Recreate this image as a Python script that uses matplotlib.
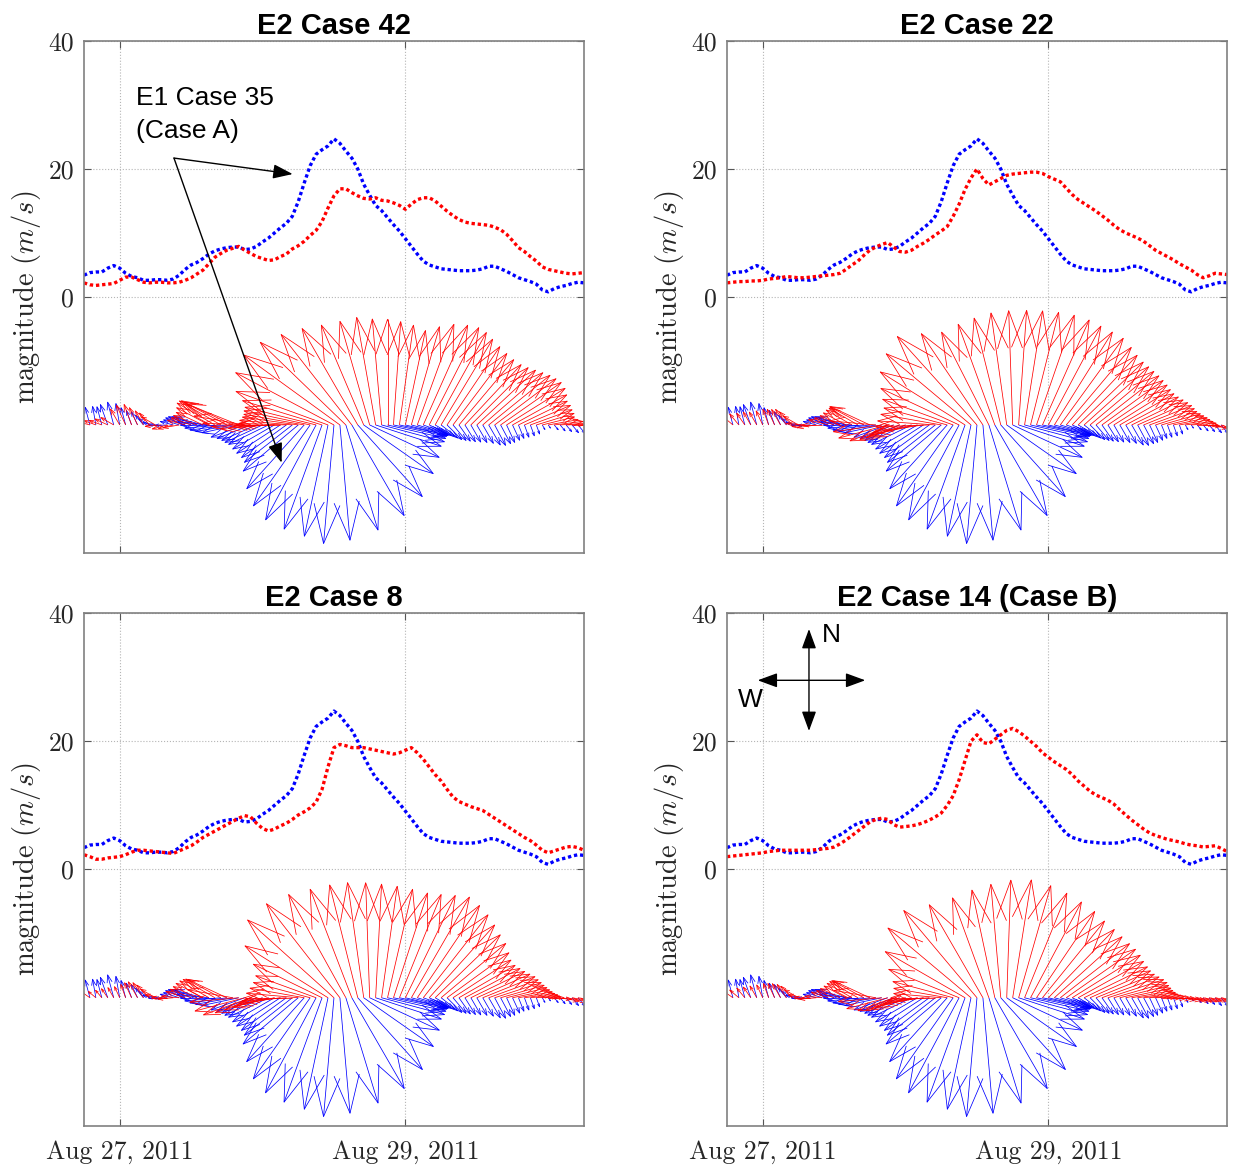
import numpy as np
import pandas as pd
import matplotlib
matplotlib.use('Agg')
import matplotlib.pyplot as plt
import matplotlib.dates as mdates
from matplotlib.collections import LineCollection
from datetime import datetime

plt.rcParams['mathtext.fontset'] = 'cm'
plt.rcParams['font.family'] = ['Liberation Sans', 'DejaVu Sans']

# hourly samples, Aug 26 18:00 -> Aug 30 06:00
times = pd.date_range('2011-08-26 18:00', '2011-08-30 06:00', freq='h')

# E1 Case 35 (blue, same in every panel): speed (m/s) and direction the wind blows toward (deg from N)
blue_mag = [3.4, 3.8, 3.9, 3.9, 4.5, 4.9, 4.5, 3.7, 3.2, 3.0,
            2.6, 2.6, 2.7, 2.7, 2.6, 2.8, 3.4, 4.3, 5.0, 5.4,
            6.0, 6.7, 7.2, 7.5, 7.7, 7.8, 7.8, 7.4, 7.5, 7.9,
            8.6, 9.2, 10.0, 10.8, 11.5, 12.6, 14.9, 17.8, 20.5, 22.3,
            23.0, 23.6, 24.7, 24.0, 22.8, 21.7, 20.0, 17.6, 15.9, 14.3,
            13.5, 12.4, 11.3, 10.3, 9.1, 7.9, 6.7, 5.6, 5.0, 4.7,
            4.4, 4.3, 4.2, 4.1, 4.1, 4.1, 4.2, 4.4, 4.8, 4.8,
            4.4, 4.0, 3.5, 3.0, 2.7, 2.4, 2.0, 1.1, 0.8, 1.3,
            1.6, 1.8, 2.1, 2.3, 2.2]
blue_dir = [340, 345, 350, 345, 340, 345, 350, 345, 340, 335,
            320, 300, 280, 270, 268,
            285, 288, 290, 290, 288, 285,
            275, 270, 265, 262, 260, 258,
            250, 248, 246, 245, 244,
            240, 237, 234, 232,
            230, 222, 215, 208, 200, 192, 185,
            175, 163, 150, 138, 125, 115, 108,
            105, 103, 102, 102, 104, 105, 107,
            110, 115, 120, 128, 135, 140,
            145, 148, 150, 150, 150, 150, 152, 152,
            155, 155, 158, 160, 160, 160,
            150, 145, 140, 140, 140, 140, 140, 140]

# E2 cases (red)
red_mag_42 = [2.2, 1.9, 1.8, 1.9, 2.0, 2.1, 2.6, 3.1, 3.1, 2.7,
              2.3, 2.2, 2.3, 2.3, 2.2, 2.2, 2.3, 2.6, 3.0, 3.6,
              4.2, 5.2, 6.2, 6.8, 7.3, 7.6, 7.9, 7.3, 6.8, 6.3,
              6.0, 5.7, 5.8, 6.3, 6.7, 7.5, 8.0, 8.7, 9.6, 10.4,
              11.8, 13.9, 15.8, 16.9, 16.9, 16.3, 15.8, 15.4, 15.3, 15.5,
              15.1, 15.0, 14.7, 14.3, 13.7, 14.5, 15.2, 15.5, 15.5, 15.0,
              14.2, 13.4, 12.7, 12.1, 11.7, 11.5, 11.4, 11.3, 11.2, 10.9,
              10.5, 9.8, 8.8, 7.7, 7.1, 6.3, 5.6, 4.7, 4.3, 4.1,
              3.9, 3.7, 3.6, 3.7, 3.8]
red_dir_42 = [285, 285, 290, 290, 295, 300,
              330, 335, 340, 335, 330, 320, 300,
              265, 255, 255, 260,
              285, 290, 292, 295,
              298, 300, 300, 298, 295, 292,
              280, 272, 268, 265, 265, 268, 270, 272,
              275, 278, 280, 282, 284, 287,
              290, 298, 306, 314, 322, 330, 337, 344, 350, 355,
              0, 4, 8, 12, 16, 20, 24, 27, 29, 31,
              34, 37, 40, 43, 45, 47, 49, 51, 53, 55,
              58, 61, 64, 67, 70, 73, 76, 80, 83, 86,
              88, 90, 92, 94]

red_mag_22 = [2.2, 2.3, 2.4, 2.4, 2.5, 2.5, 2.6, 2.8, 2.9, 3.0,
              3.2, 3.1, 3.0, 3.0, 3.1, 3.2, 3.3, 3.4, 3.5, 3.7,
              4.3, 5.0, 5.6, 6.5, 7.3, 7.8, 8.2, 8.5, 7.8, 7.1,
              7.0, 7.3, 7.9, 8.4, 9.0, 9.7, 10.3, 11.0, 12.6, 14.5,
              16.8, 18.6, 20.0, 18.5, 17.5, 18.0, 18.5, 19.0, 19.2, 19.3,
              19.4, 19.5, 19.5, 19.3, 18.8, 18.4, 18.0, 17.0, 16.0, 15.2,
              14.6, 14.0, 13.4, 12.7, 12.0, 11.2, 10.5, 10.0, 9.6, 9.2,
              8.7, 8.0, 7.3, 6.8, 6.3, 5.8, 5.2, 4.7, 4.2, 3.5,
              3.0, 3.3, 3.7, 3.6, 3.5]
red_dir_22 = [300, 310, 320, 325, 330, 330,
              335, 340, 335, 330, 325, 315, 300,
              275, 265, 262, 270,
              285, 290, 295, 298, 300, 300, 298, 295,
              275, 262, 255, 250, 250, 252, 255, 258, 262, 268, 274,
              280, 285, 290, 295, 302, 310, 318, 326, 333, 340,
              346, 352, 358, 4, 9, 14, 19, 24, 28, 32,
              36, 40, 43, 46, 48, 50, 52, 54, 56, 58,
              60, 62, 64, 66, 68, 70, 72, 74, 76, 78,
              80, 83, 86, 90, 95, 100, 105, 108, 110]

red_mag_8 = [2.3, 2.0, 1.6, 1.6, 1.8, 1.9, 2.0, 2.3, 2.7, 3.0,
             3.0, 2.9, 2.8, 2.7, 2.6, 2.5, 2.9, 3.3, 3.7, 4.3,
             5.0, 5.5, 6.0, 6.5, 7.0, 7.5, 8.0, 8.4, 8.2, 7.2,
             6.4, 6.0, 6.3, 6.8, 7.2, 7.8, 8.5, 9.0, 9.6, 10.5,
             12.5, 16.0, 19.0, 19.5, 19.3, 19.0, 19.0, 19.0, 18.8, 18.6,
             18.4, 18.2, 18.0, 18.2, 18.6, 19.0, 18.2, 17.2, 16.0, 14.8,
             13.8, 12.5, 11.3, 10.6, 10.2, 9.8, 9.5, 9.2, 8.6, 8.0,
             7.4, 6.8, 6.2, 5.6, 5.0, 4.5, 3.8, 3.0, 2.6, 2.9,
             3.2, 3.5, 3.6, 3.4, 3.0]
red_dir_8 = [300, 305, 310, 320, 325, 330, 335, 340, 335, 330, 325, 315, 300,
             280, 270, 265, 275,
             288, 292, 295, 298, 300, 300, 298, 295,
             280, 265, 255, 250, 250, 252, 255, 258, 262, 266, 270,
             275, 280, 285, 290, 296, 302, 312, 322, 331, 339,
             346, 352, 358, 3, 8, 13, 18, 22, 26, 30,
             34, 38, 42, 46, 50, 54, 57, 60, 62, 64,
             66, 68, 70, 72, 74, 76, 78, 80, 82, 84,
             86, 88, 90, 95, 100, 100, 100, 100, 100]

red_mag_14 = [2.0, 2.1, 2.2, 2.3, 2.4, 2.5, 2.6, 2.8, 2.9, 3.0,
              3.0, 3.0, 3.0, 3.0, 3.0, 3.1, 3.2, 3.3, 3.5, 4.0,
              4.6, 5.3, 6.0, 6.7, 7.4, 7.8, 8.0, 7.8, 7.0, 6.6,
              6.7, 6.8, 7.0, 7.3, 7.7, 8.2, 8.8, 10.0, 11.5, 14.0,
              17.0, 20.0, 21.0, 19.8, 19.6, 20.3, 21.0, 21.7, 22.0, 21.5,
              20.8, 20.0, 19.2, 18.2, 17.5, 16.8, 16.2, 15.6, 14.8, 13.8,
              13.0, 12.2, 11.6, 11.2, 10.8, 10.2, 9.3, 8.5, 7.7, 7.0,
              6.3, 5.7, 5.3, 5.0, 4.7, 4.5, 4.3, 4.0, 3.8, 3.7,
              3.5, 3.6, 3.7, 3.3, 2.8]
red_dir_14 = [300, 305, 310, 320, 325, 330, 335, 340, 335, 330, 325, 315, 300,
              280, 270, 265, 275,
              288, 292, 295, 298, 300, 300, 298, 295,
              280, 265, 255, 250, 250, 252, 255, 258, 262, 266, 270,
              275, 280, 285, 292, 300, 310, 320, 330, 340, 348,
              355, 2, 9, 16, 22, 28, 34, 39, 44, 48,
              52, 55, 58, 61, 64, 66, 68, 70, 72, 74,
              76, 78, 80, 82, 84, 86, 88, 90, 92, 94,
              96, 98, 100, 100, 100, 100, 100, 100, 100]

titles = ['E2 Case 42', 'E2 Case 22', 'E2 Case 8', 'E2 Case 14 (Case B)']
red_mags = [red_mag_42, red_mag_22, red_mag_8, red_mag_14]
red_dirs = [red_dir_42, red_dir_22, red_dir_8, red_dir_14]
date_labels = ['Aug 27, 2011', 'Aug 29, 2011']
mag_ticks = [0, 20, 40]

t = mdates.date2num(times.to_pydatetime())
d27 = mdates.date2num(datetime(2011, 8, 27))
d29 = mdates.date2num(datetime(2011, 8, 29))


def sticks(ax, t, mag, dirs, color, base=-20.0, longest=18.6):
    # quiver-like stick plot, autoscaled so the longest arrow is `longest`
    mag = np.asarray(mag, float)
    th = np.deg2rad(dirs)
    L = mag / mag.max() * longest
    u = L * np.sin(th)
    v = L * np.cos(th)
    x0, x1 = ax.get_xlim()
    y0, y1 = ax.get_ylim()
    bb = ax.get_window_extent()
    k = ((x1 - x0) / bb.width) / ((y1 - y0) / bb.height)
    a, b = 0.33, 0.33
    segs = []
    for ti, ui, vi in zip(t, u, v):
        tip = (ti + k * ui, base + vi)
        h1 = (ti + k * (ui - a * (ui + b * vi)), base + vi - a * (vi - b * ui))
        h2 = (ti + k * (ui - a * (ui - b * vi)), base + vi - a * (vi + b * ui))
        segs.append([(ti, base), tip])
        segs.append([h1, tip, h2])
    ax.add_collection(LineCollection(segs, colors=color, linewidths=0.55))


fig = plt.figure(figsize=(12.33, 11.7), dpi=100)
pos = [[0.0681, 0.5274, 0.4055, 0.4376], [0.5896, 0.5274, 0.4055, 0.4376],
       [0.0681, 0.0376, 0.4055, 0.4385], [0.5896, 0.0376, 0.4055, 0.4385]]

axes = []
for i in range(4):
    ax = fig.add_axes(pos[i])
    axes.append(ax)
    ax.set_xlim(t[0], t[-1])
    ax.set_ylim(-40, 40)

    sticks(ax, t, blue_mag, blue_dir, 'b')
    sticks(ax, t, red_mags[i], red_dirs[i], 'r')
    ax.plot(t, blue_mag, color='b', lw=2.4, linestyle=(0, (1, 0.85)))
    ax.plot(t, red_mags[i], color='r', lw=2.4, linestyle=(0, (1, 0.85)))

    ax.set_yticks(mag_ticks)
    ax.set_yticklabels([str(v) for v in mag_ticks], fontfamily='cmr10')
    ax.set_xticks([d27, d29])
    if i >= 2:
        ax.set_xticklabels(date_labels, fontfamily='cmr10')
    else:
        ax.set_xticklabels([])
    ax.tick_params(direction='in', length=5, top=True, right=True,
                   labelsize=18.5, color='#555555', labelcolor='#262626', pad=7)
    ax.tick_params(axis='x', pad=10)
    ax.grid(True, linestyle=':', color='#b5b5b5', lw=0.8)
    for s in ax.spines.values():
        s.set_color('#808080')
        s.set_linewidth(1.2)
    ax.set_ylabel(r'$\mathrm{magnitude}\ (m/s)$', fontsize=20.5, color='#262626', labelpad=4)
    ax.set_title(titles[i], fontsize=21, fontweight='bold', pad=5)

# annotation in first panel
ax = axes[0]
ax.text(d27 + 0.113, 32.9, 'E1 Case 35\n(Case A)', fontsize=19, ha='left', va='top',
        linespacing=1.45)
arr = dict(arrowstyle='-|>,head_length=0.6,head_width=0.22', color='k', lw=1.0,
           mutation_scale=20, shrinkA=0, shrinkB=0)
ax.annotate('', xy=(d27 + 1.211, 19.2), xytext=(d27 + 0.38, 21.7), arrowprops=arr)
ax.annotate('', xy=(d27 + 1.134, -25.9), xytext=(d27 + 0.38, 21.7), arrowprops=arr)

# compass in last panel
ax = axes[3]
arr2 = dict(arrowstyle='<|-|>,head_length=0.6,head_width=0.22', color='k', lw=1.0,
            mutation_scale=20, shrinkA=0, shrinkB=0)
ax.annotate('', xy=(d27 + 0.324, 37.5), xytext=(d27 + 0.324, 21.6), arrowprops=arr2)
ax.annotate('', xy=(d27 + 0.718, 29.5), xytext=(d27 - 0.035, 29.5), arrowprops=arr2)
ax.text(d27 + 0.48, 36.6, 'N', fontsize=19, ha='center', va='center')
ax.text(d27 - 0.085, 26.4, 'W', fontsize=19, ha='center', va='center')

fig.savefig('out.png', dpi=100)
